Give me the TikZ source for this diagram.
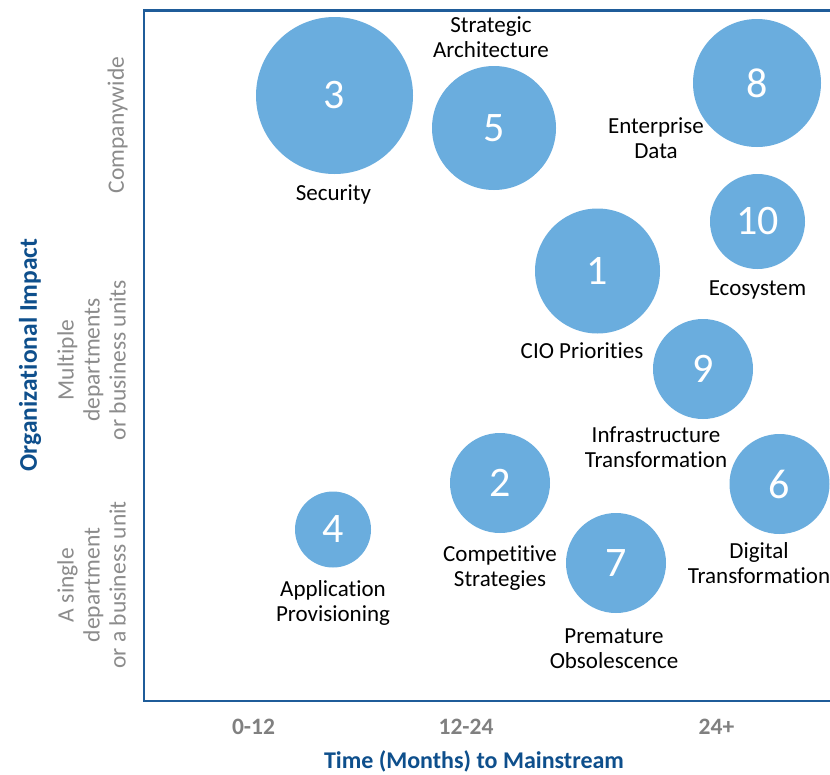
\documentclass[tikz,border=0pt]{standalone}
\usepackage{fontspec}
\setmainfont{Carlito}[Ligatures=NoCommon]
\definecolor{bubblefill}{HTML}{6AADDE}
\definecolor{frameblue}{HTML}{1F5C99}
\definecolor{titleblue}{HTML}{0E4F8C}
\definecolor{ticgray}{HTML}{808080}
\definecolor{grpgray}{HTML}{8C8C8C}
\begin{document}
\begin{tikzpicture}[x=1pt,y=-1pt,
  bubble/.style={circle, fill=bubblefill, draw=none, inner sep=0pt, text=white,
    font=\fontsize{42}{46}\selectfont},
  lbl/.style={align=center, inner sep=0pt, text=black,
    font=\fontsize{23}{25}\selectfont},
  tick/.style={inner sep=0pt, text=ticgray, font=\fontsize{23.5}{26}\selectfont\bfseries},
  grp/.style={rotate=90, align=center, inner sep=0pt, text=grpgray,
    font=\fontsize{23.5}{26}\selectfont},
  axtitle/.style={inner sep=0pt, text=titleblue, font=\fontsize{24}{28}\selectfont\bfseries}]
\useasboundingbox (0,0) rectangle (830,774);
\fill[white] (0,0) rectangle (830,774);
% frame
\coordinate (tr) at (835,10.5);
\coordinate (br) at (835,701);
\coordinate (tl) at (144,10.5);
\coordinate (bl) at (144,701);
\draw[frameblue, line width=2.4pt] (tr) -- (tl) -- (bl) -- (br);
% bubbles
\node[bubble, minimum size=157pt] (c3) at (334.5,95.5) {3};
\node[bubble, minimum size=124pt] (c5) at (494,128) {5};
\node[bubble, minimum size=128pt] (c8) at (757,83) {8};
\node[bubble, minimum size=95pt] (c10) at (757.5,221.5) {10};
\node[bubble, minimum size=125pt] (c1) at (597.5,271) {1};
\node[bubble, minimum size=100pt] (c9) at (703,369) {9};
\node[bubble, minimum size=100pt] (c2) at (500,483) {2};
\node[bubble, minimum size=100pt] (c6) at (779.5,484) {6};
\node[bubble, minimum size=76pt] (c4) at (333,529.5) {4};
\node[bubble, minimum size=100pt] (c7) at (616,563) {7};
% labels
\node[lbl] (l5) at (491,37) {Strategic\\Architecture};
\node[lbl] (l3) at (333.5,194.5) {Security};
\node[lbl] (l8) at (656,138.5) {Enterprise\\Data};
\node[lbl] (l10) at (757.5,289.5) {Ecosystem};
\node[lbl] (l1) at (582,351) {CIO Priorities};
\node[lbl] (l9) at (656,447.5) {Infrastructure\\Transformation};
\node[lbl] (l2) at (500,568) {Competitive\\Strategies};
\node[lbl] (l6) at (759,563.5) {Digital\\Transformation};
\node[lbl] (l4) at (333,603) {Application\\Provisioning};
\node[lbl] (l7) at (614,649) {Premature\\Obsolescence};
% axis ticks
\node[tick] (t1) at (253.5,727) {0-12};
\node[tick] (t2) at (466,727) {12-24};
\node[tick] (t3) at (716.5,727) {24+};
\node[axtitle] (xt) at (474,761.5) {Time (Months) to Mainstream};
\node[axtitle, rotate=90, font=\fontsize{25.5}{28}\selectfont\bfseries] (yt) at (30,355) {Organizational Impact};
% group labels
\node[grp] (g1) at (117.5,125) {Companywide};
\node[grp] (g2) at (91.5,360) {Multiple\\departments\\or business units};
\node[grp] (g3) at (91.5,585) {A single\\department\\or a business unit};
\end{tikzpicture}
\end{document}
